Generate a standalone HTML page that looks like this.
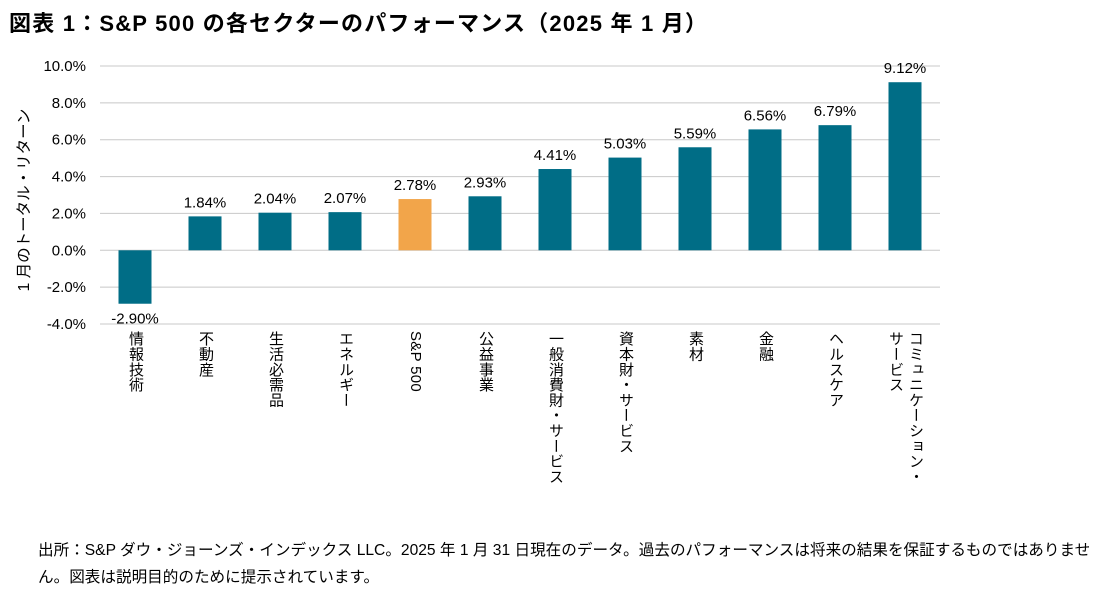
<!DOCTYPE html>
<html><head><meta charset="utf-8">
<style>
body{margin:0;background:#fff;width:1102px;height:597px;overflow:hidden;font-family:"Liberation Sans","Noto Sans CJK JP",sans-serif;}
#title{position:absolute;left:9px;top:6px;font-size:22px;font-weight:bold;color:#000;letter-spacing:1.2px;white-space:nowrap;}
#note{position:absolute;left:38px;top:537px;width:1058px;font-size:15.6px;line-height:27px;color:#000;}
svg{position:absolute;left:0;top:0;}
.cat{position:absolute;top:331px;height:158px;width:60px;display:flex;justify-content:center;}
.cat span{writing-mode:vertical-rl;font-size:15px;line-height:20px;max-height:158px;letter-spacing:0.3px;color:#000;}
</style></head><body>
<div id="title">図表 1：S&amp;P 500 の各セクターのパフォーマンス（2025 年 1 月）</div>
<svg id="chart" width="1102" height="530"></svg>
<div id="cats"></div>
<div id="note">出所：S&amp;P ダウ・ジョーンズ・インデックス LLC。2025 年 1 月 31 日現在のデータ。過去のパフォーマンスは将来の結果を保証するものではありません。図表は説明目的のために提示されています。</div>
<script>
const categories=["情報技術","不動産","生活必需品","エネルギー","S&P 500","公益事業","一般消費財・サービス","資本財・サービス","素材","金融","ヘルスケア","コミュニケーション・サービス"];
const values=[-2.90,1.84,2.04,2.07,2.78,2.93,4.41,5.03,5.59,6.56,6.79,9.12];
const ticks=[10,8,6,4,2,0,-2,-4];
const NS="http://www.w3.org/2000/svg";
const svg=document.getElementById('chart');
const cats=document.getElementById('cats');
const x0=100,x1=940,yTop=66,yBot=324,vMax=10,vMin=-4;
const y=v=>yTop+(vMax-v)/(vMax-vMin)*(yBot-yTop);
const bw=(x1-x0)/categories.length;
const xc=i=>x0+bw*(i+0.5);
function mk(t,a){const e=document.createElementNS(NS,t);for(const k in a)e.setAttribute(k,a[k]);svg.appendChild(e);return e;}
ticks.forEach(t=>{
  const l=mk('line',{x1:x0,x2:x1,y1:y(t),y2:y(t),stroke:'#c8c8c8','stroke-width':1});
  
  
  const tx=mk('text',{x:86,y:y(t)+5,'text-anchor':'end','font-size':15,fill:'#000'});
  tx.textContent=t.toFixed(1)+'%';
  
  
});
const yt=mk('text',{x:0,y:0,transform:'translate(29,200) rotate(-90)','text-anchor':'middle','font-size':15.5,fill:'#000'});
yt.textContent='1 月のトータル・リターン';


values.forEach((v,i)=>{
  const top=Math.min(y(v),y(0)),h=Math.abs(y(v)-y(0));
  const r=mk('rect',{x:xc(i)-16.5,y:top,width:33,height:h,fill:categories[i]==='S&P 500'?'#f2a54a':'#006d86'});
  
  
  const lt=mk('text',{x:xc(i),y:v>=0?y(v)-9:y(v)+20,'text-anchor':'middle','font-size':15,fill:'#000'});
  lt.textContent=v.toFixed(2)+'%';
  
  
  const d=document.createElement('div');
  d.className='cat';
  d.style.left=(xc(i)-30)+'px';
  
  
  const s=document.createElement('span');
  s.textContent=categories[i];
  d.appendChild(s);
  cats.appendChild(d);
});
</script>
</body></html>
